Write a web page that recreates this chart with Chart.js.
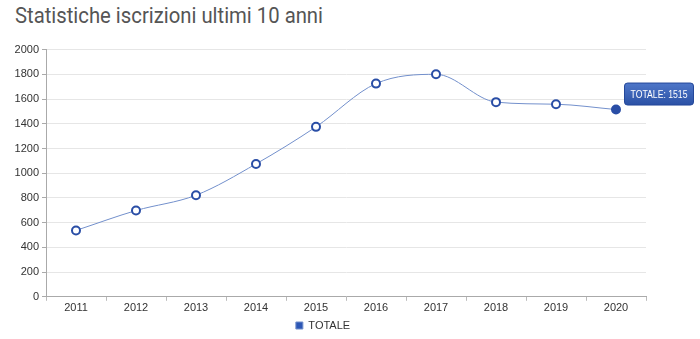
<!DOCTYPE html>
<html>
<head>
<meta charset="utf-8">
<script src="https://cdn.jsdelivr.net/npm/chart.js@4/dist/chart.umd.min.js"></script>
<style>
  html, body { margin: 0; padding: 0; background: #fff; }
  #wrap { position: relative; width: 700px; height: 339px; overflow: hidden; }
  #titolo {
    position: absolute; left: 15px; top: 3px; margin: 0;
    font: 400 22px Roboto, sans-serif; color: #555;
    white-space: nowrap; transform-origin: left top;
  }
  #box { position: absolute; left: 0; top: 40px; width: 700px; height: 299px; }
</style>
</head>
<body>
<div id="wrap">
  <h1 id="titolo">Statistiche iscrizioni ultimi 10 anni</h1>
  <div id="box"><canvas id="myChart"></canvas></div>
</div>
<script>
const anni = ['2011', '2012', '2013', '2014', '2015', '2016', '2017', '2018', '2019', '2020'];
const totale = [537, 698, 822, 1075, 1375, 1725, 1800, 1575, 1558, 1515];
const serie = 'TOTALE';
const tickY = [0, 200, 400, 600, 800, 1000, 1200, 1400, 1600, 1800, 2000];

// titolo in stile condensed
const t = document.getElementById('titolo');
t.style.transform = 'scaleX(' + (308 / t.getBoundingClientRect().width) + ')';

const ultimo = totale.length - 1;

// etichetta fissa sull'ultimo punto
const etichetta = {
    id: 'etichetta',
    afterDatasetsDraw(chart) {
        const p = chart.getDatasetMeta(0).data[ultimo];
        const c = chart.ctx;
        const testo = serie + ': ' + totale[ultimo];
        c.save();
        c.font = '11px Arial, "Liberation Sans", sans-serif';
        const tw = c.measureText(testo).width;
        const sx = 57 / tw;
        const w = 69;
        const h = 22;
        const x = p.x + 8;
        const y = p.y - 27;
        const g = c.createLinearGradient(0, y, 0, y + h);
        g.addColorStop(0, '#4f77c9');
        g.addColorStop(1, '#2b52a6');
        c.fillStyle = g;
        c.strokeStyle = '#24489a';
        c.lineWidth = 1;
        c.beginPath();
        c.roundRect(x + 0.5, y + 0.5, w, h, 3);
        c.fill();
        c.stroke();
        c.fillStyle = '#fff';
        c.textBaseline = 'middle';
        c.translate(x + 6.5, y + h / 2 + 1);
        c.scale(sx, 1);
        c.fillText(testo, 0, 0);
        c.restore();
    }
};

new Chart(document.getElementById('myChart'), {
    type: 'line',
    data: {
        labels: anni,
        datasets: [{
            label: serie,
            data: totale,
            borderColor: '#7390cc',
            borderWidth: 1,
            backgroundColor: '#2d57b5',
            cubicInterpolationMode: 'monotone',
            pointRadius: 4,
            pointBorderWidth: 2,
            pointBorderColor: '#2a4ea6',
            pointBackgroundColor: totale.map((v, i) => i === ultimo ? '#2a4ea6' : '#ffffff')
        }]
    },
    options: {
        responsive: true,
        maintainAspectRatio: false,
        animation: false,
        layout: { padding: { top: 9, right: 54, left: 0, bottom: -2 } },
        plugins: {
            tooltip: { enabled: false },
            legend: {
                position: 'bottom',
                labels: {
                    boxWidth: 7,
                    boxHeight: 7,
                    padding: 4,
                    color: '#333',
                    font: { family: 'Arial, "Liberation Sans", sans-serif', size: 11 }
                }
            }
        },
        scales: {
            x: {
                offset: true,
                grid: { display: true, drawOnChartArea: false, offset: true, tickLength: 4, color: '#bbb' },
                border: { color: '#aaa' },
                ticks: {
                    color: '#333', padding: 1,
                    font: { family: 'Arial, "Liberation Sans", sans-serif', size: 11 },
                    maxRotation: 0
                }
            },
            y: {
                min: 0,
                max: 2000,
                afterBuildTicks(scale) { scale.ticks = tickY.map(v => ({ value: v })); },
                afterFit(scale) { scale.width = 46; },
                grid: { color: '#e6e6e6', tickLength: 4, tickColor: '#aaa' },
                border: { color: '#aaa' },
                ticks: {
                    color: '#333', padding: 3,
                    callback: v => String(v),
                    font: { family: 'Arial, "Liberation Sans", sans-serif', size: 11 }
                }
            }
        }
    },
    plugins: [etichetta]
});
</script>
</body>
</html>
